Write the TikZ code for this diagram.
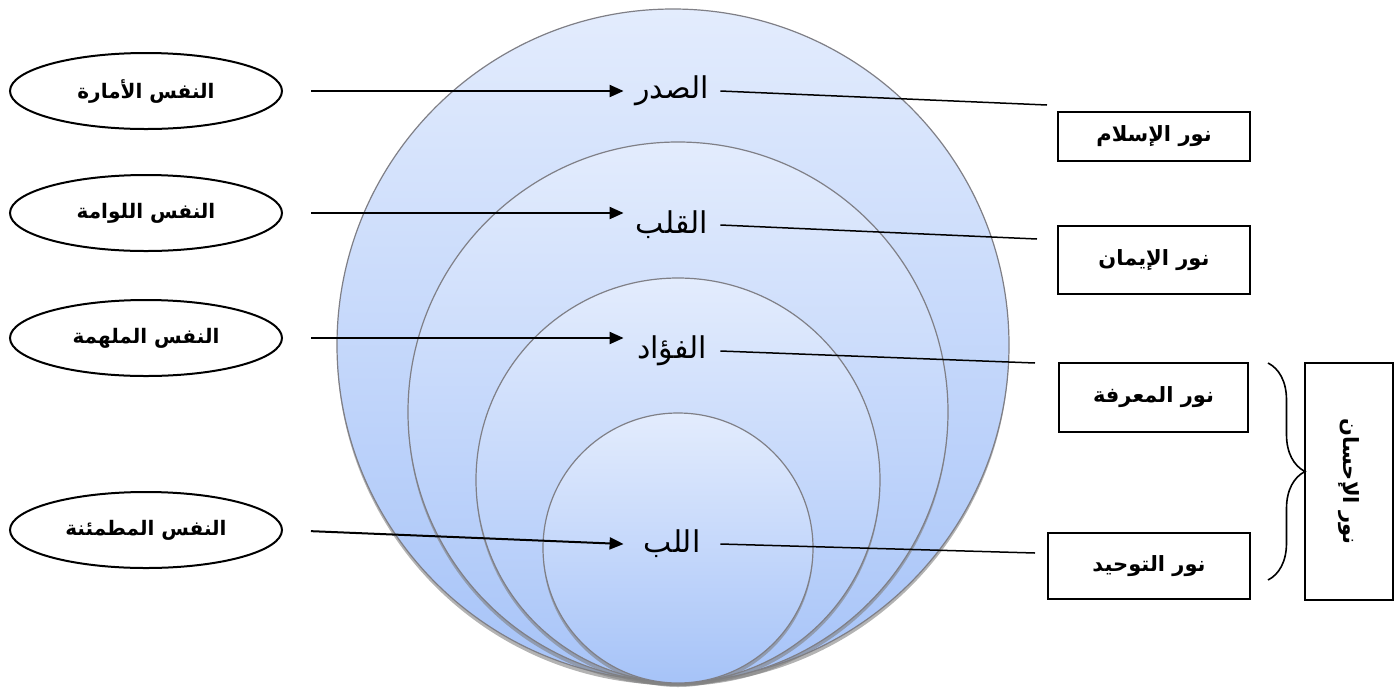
\documentclass[tikz,border=0pt]{standalone}
\usepackage{fontspec}
\newfontfamily\arabicfont[Script=Arabic]{DejaVu Sans}
\TeXXeTstate=1
\usepackage{tikz}
\usetikzlibrary{arrows.meta,shapes.geometric,shadows,decorations.pathreplacing}
\definecolor{ltop}{HTML}{E3ECFD}
\definecolor{lbot}{HTML}{A6C3F8}
\definecolor{rim}{HTML}{7F7F86}

\begin{document}
\begin{tikzpicture}[x=0.5pt,y=-0.5pt,
  layer/.style={draw=rim,line width=0.6pt,top color=ltop,bottom color=lbot,
    drop shadow={opacity=0.6,shadow xshift=0pt,shadow yshift=-2pt}},
  nafs/.style={ellipse,draw,line width=1pt,minimum width=136pt,minimum height=38pt,
    inner sep=0pt,font=\arabicfont\bfseries\fontsize{10}{12}\selectfont},
  part/.style={minimum width=48pt,minimum height=14pt,inner sep=0pt,
    font=\arabicfont\fontsize{15}{17}\selectfont},
  noor/.style={draw,line width=0.9pt,inner sep=0pt,
    font=\arabicfont\bfseries\fontsize{10.5}{12}\selectfont},
  arr/.style={line width=1pt,-{Triangle[length=7pt,width=6pt]},shorten <=14pt},
  link/.style={line width=0.75pt}]
\useasboundingbox (0,0) rectangle (1399,687);
% nested circles
\path[layer] (673,345) circle[radius=168pt];
\path[layer] (678,412) circle[radius=135pt];
\path[layer] (678,480) circle[radius=101pt];
\path[layer] (678,548) circle[radius=67.5pt];
% levels of the heart
\node[part] (sadr) at (672,91) {\beginR الصدر\endR};
\node[part] (qalb) at (672,225) {\beginR القلب\endR};
\node[part] (fuad) at (672,351) {\beginR الفؤاد\endR};
\node[part] (lubb) at (672,544) {\beginR اللب\endR};
% the souls
\node[nafs] (amara) at (146,91) {\beginR النفس الأمارة\endR};
\node[nafs] (lawwama) at (146,213) {\beginR النفس اللوامة\endR};
\node[nafs] (mulhama) at (146,338) {\beginR النفس الملهمة\endR};
\node[nafs] (mutmainna) at (146,530) {\beginR النفس المطمئنة\endR};
\draw[arr] (amara.east) -- (sadr.west |- amara.east);
\draw[arr] (lawwama.east) -- (qalb.west |- lawwama.east);
\draw[arr] (mulhama.east) -- (fuad.west |- mulhama.east);
\draw[arr] (mutmainna.east) -- (lubb.west);
% the lights
\node[noor,minimum width=96pt,minimum height=24.5pt] (islam) at (1154,136.5) {\beginR نور الإسلام\endR};
\node[noor,minimum width=96pt,minimum height=34pt] (iman) at (1154,260) {\beginR نور الإيمان\endR};
\node[noor,minimum width=94.5pt,minimum height=34.5pt] (maarifa) at (1153.5,397.5) {\beginR نور المعرفة\endR};
\node[noor,minimum width=101pt,minimum height=33pt] (tawhid) at (1149,566) {\beginR نور التوحيد\endR};
\node[noor,rotate=-90,minimum width=118.5pt,minimum height=44pt] (ihsan) at (1349,481.5) {\beginR نور الإحسان\endR};
\coordinate (c1) at (1047,105);
\coordinate (c2) at (1037,239);
\coordinate (c3) at (1035,363);
\coordinate (c4) at (1035,553);
\draw[link] (sadr.east) -- (c1);
\draw[link] (qalb.east) -- (c2);
\draw[link] (fuad.east) -- (c3);
\draw[link] (lubb.east) -- (c4);
\draw[line width=0.8pt,decorate,decoration={brace,amplitude=18.5pt}] (1268,363) -- (1268,580);
\end{tikzpicture}
\end{document}
